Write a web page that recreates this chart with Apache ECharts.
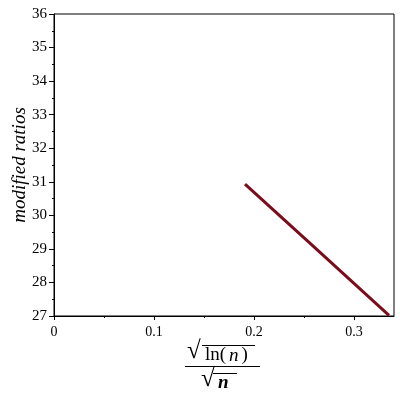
<!DOCTYPE html>
<html>
<head>
<meta charset="utf-8">
<script src="https://cdn.jsdelivr.net/npm/echarts@6/dist/echarts.min.js"></script>
<style>html,body{margin:0;padding:0;background:#fff}#c{width:400px;height:400px}</style>
</head>
<body>
<div id="c"></div>
<script>
// Data
const xValues = [0.191, 0.26, 0.335];
const yValues = [30.93, 29.06, 27.02];
const xMajorTicks = [0, 0.1, 0.2, 0.3];
const xMinorTicks = [0.05, 0.15, 0.25];
const yAxisName = 'modified ratios';

const chart = echarts.init(document.getElementById('c'), null, {renderer: 'canvas'});
const serif = '"Liberation Serif", "DejaVu Serif", serif';
const lineColor = '#7b0c1c';

chart.setOption({
  animation: false,
  backgroundColor: '#fff',
  grid: {left: 54, right: 6, top: 14, bottom: 84, show: true, borderColor: '#000', borderWidth: 1,
    backgroundColor: 'transparent', containLabel: false, outerBoundsMode: 'none'},
  xAxis: [{
    type: 'value', min: 0, max: 0.34,
    axisLine: {show: true, onZero: false, lineStyle: {color: '#000', width: 1}},
    axisTick: {show: true, inside: false, length: 4, customValues: xMajorTicks, lineStyle: {color: '#000'}},
    axisLabel: {show: true, customValues: xMajorTicks, margin: 9, color: '#000', fontFamily: serif, fontSize: 14,
      formatter: v => (v === 0 ? '0' : String(Math.round(v * 10) / 10))},
    splitLine: {show: false}
  }, {
    type: 'value', min: 0, max: 0.34, position: 'bottom',
    axisLine: {show: false, onZero: false},
    axisTick: {show: true, length: 2, customValues: xMinorTicks, lineStyle: {color: '#000'}},
    axisLabel: {show: false},
    splitLine: {show: false}
  }],
  yAxis: {
    type: 'value', min: 27, max: 36, interval: 1,
    name: yAxisName, nameLocation: 'middle', nameGap: 25, nameMoveOverlap: false,
    nameTextStyle: {fontFamily: serif, fontStyle: 'italic', fontSize: 19, color: '#000'},
    axisLine: {show: true, onZero: false, lineStyle: {color: '#000', width: 1}},
    axisTick: {show: true, length: 5, lineStyle: {color: '#000'}},
    minorTick: {show: true, splitNumber: 2, length: 2, lineStyle: {color: '#000'}},
    axisLabel: {margin: 7, color: '#000', fontFamily: serif, fontSize: 15},
    splitLine: {show: false}
  },
  series: [{
    type: 'line',
    data: xValues.map((x, i) => [x, yValues[i]]),
    showSymbol: false, symbol: 'none',
    lineStyle: {color: lineColor, width: 3},
    clip: true
  }],
  graphic: [
    // numerator: sqrt(ln(n))
    {type: 'text', left: 187, top: 339, style: {text: '√', font: '25px ' + serif, fill: '#000'}},
    {type: 'line', shape: {x1: 202, y1: 345.5, x2: 255, y2: 345.5}, style: {stroke: '#000', lineWidth: 1}},
    {type: 'text', left: 205, top: 346, style: {
      text: '{u|ln(}{i|n}{u|)}',
      rich: {u: {font: '19px ' + serif, fill: '#000'}, i: {font: 'italic 19px ' + serif, fill: '#000', padding: [0, 3, 0, 3]}}
    }},
    // fraction bar
    {type: 'line', shape: {x1: 185, y1: 366.5, x2: 260, y2: 366.5}, style: {stroke: '#000', lineWidth: 1}},
    // denominator: sqrt(n)
    {type: 'text', left: 201, top: 367, style: {text: '√', font: '25px ' + serif, fill: '#000'}},
    {type: 'line', shape: {x1: 213, y1: 373.5, x2: 237, y2: 373.5}, style: {stroke: '#000', lineWidth: 1}},
    {type: 'text', left: 218, top: 374, style: {text: 'n', font: 'italic bold 19px ' + serif, fill: '#000'}}
  ]
});
</script>
</body>
</html>
